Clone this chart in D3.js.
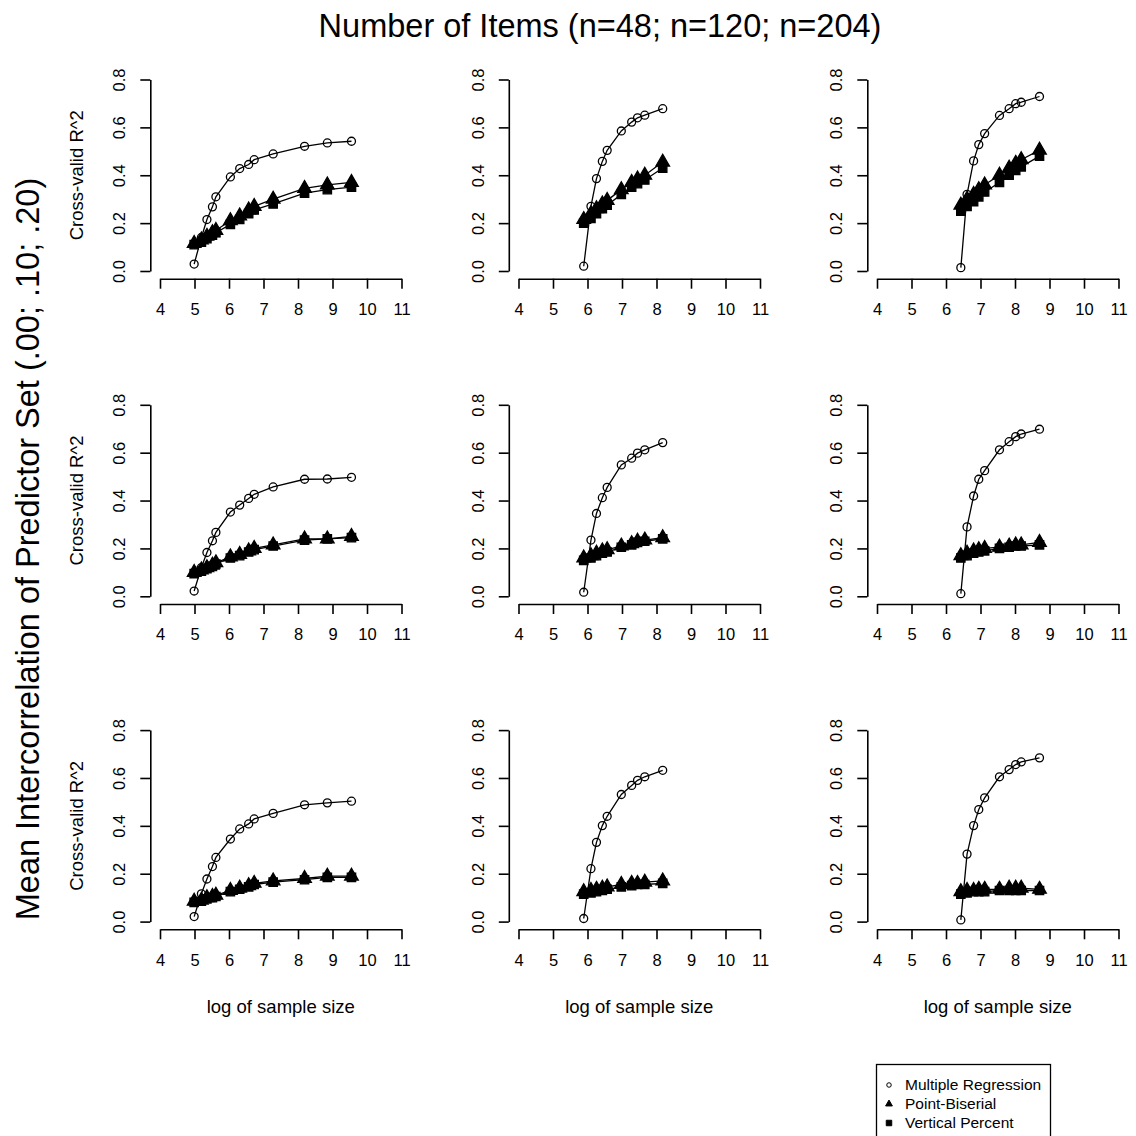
<!DOCTYPE html>
<html>
<head>
<meta charset="utf-8">
<script src="https://cdn.jsdelivr.net/npm/d3@7"></script>
<style>
  html, body { margin: 0; padding: 0; background: #fff; }
  svg { display: block; font-family: "Liberation Sans", Arial, sans-serif; }
  .axis path, .axis line { stroke: #000; stroke-width: 1.6; }
  .axis text { fill: #000; font-size: 16.5px; font-family: "Liberation Sans", Arial, sans-serif; }
</style>
</head>
<body>
<svg id="chart" width="1136" height="1136"></svg>
<script>
// log of sample size at which each design was simulated (one list per item count)
const logSizeItems48  = [4.99, 5.20, 5.36, 5.52, 5.62, 6.04, 6.31, 6.57, 6.73, 7.28, 8.19, 8.85, 9.55];
const logSizeItems120 = [5.89, 6.10, 6.26, 6.43, 6.57, 6.98, 7.28, 7.45, 7.66, 8.18];
const logSizeItems204 = [6.43, 6.61, 6.80, 6.95, 7.12, 7.55, 7.83, 8.02, 8.18, 8.71];

// Cross-validated R^2, mean predictor intercorrelation .00 (n=48, n=120, n=204)
const multReg00 = [
  [0.029, 0.14, 0.215, 0.268, 0.31, 0.393, 0.428, 0.445, 0.465, 0.489, 0.521, 0.535, 0.542],
  [0.020, 0.27, 0.386, 0.458, 0.504, 0.585, 0.622, 0.640, 0.651, 0.678],
  [0.014, 0.32, 0.460, 0.528, 0.574, 0.650, 0.678, 0.699, 0.705, 0.729]
];
const pointBis00 = [
  [0.115, 0.13, 0.145, 0.16, 0.17, 0.21, 0.23, 0.255, 0.27, 0.30, 0.345, 0.36, 0.37],
  [0.215, 0.24, 0.26, 0.28, 0.295, 0.34, 0.37, 0.385, 0.40, 0.455],
  [0.275, 0.30, 0.32, 0.34, 0.36, 0.40, 0.43, 0.45, 0.465, 0.505]
];
const vertPct00 = [
  [0.11, 0.12, 0.135, 0.15, 0.16, 0.195, 0.215, 0.24, 0.255, 0.28, 0.325, 0.34, 0.35],
  [0.20, 0.22, 0.24, 0.26, 0.275, 0.32, 0.35, 0.365, 0.38, 0.43],
  [0.25, 0.27, 0.29, 0.31, 0.33, 0.37, 0.40, 0.42, 0.435, 0.48]
];

// mean predictor intercorrelation .10
const multReg10 = [
  [0.022, 0.12, 0.183, 0.232, 0.267, 0.352, 0.381, 0.409, 0.426, 0.457, 0.489, 0.490, 0.497],
  [0.017, 0.235, 0.346, 0.412, 0.455, 0.549, 0.577, 0.598, 0.612, 0.642],
  [0.011, 0.29, 0.419, 0.489, 0.525, 0.612, 0.646, 0.667, 0.678, 0.698]
];
const pointBis10 = [
  [0.10, 0.11, 0.12, 0.13, 0.14, 0.165, 0.175, 0.19, 0.20, 0.215, 0.24, 0.24, 0.25],
  [0.16, 0.17, 0.18, 0.19, 0.195, 0.21, 0.22, 0.23, 0.235, 0.245],
  [0.17, 0.18, 0.19, 0.195, 0.20, 0.205, 0.21, 0.215, 0.215, 0.225]
];
const vertPct10 = [
  [0.095, 0.105, 0.115, 0.125, 0.135, 0.16, 0.17, 0.185, 0.195, 0.21, 0.235, 0.24, 0.245],
  [0.15, 0.16, 0.17, 0.18, 0.185, 0.205, 0.215, 0.225, 0.23, 0.24],
  [0.16, 0.17, 0.18, 0.185, 0.19, 0.20, 0.205, 0.21, 0.21, 0.215]
];

// mean predictor intercorrelation .20
const multReg20 = [
  [0.021, 0.116, 0.178, 0.23, 0.268, 0.345, 0.387, 0.408, 0.429, 0.452, 0.488, 0.496, 0.503],
  [0.013, 0.221, 0.331, 0.401, 0.44, 0.531, 0.569, 0.59, 0.605, 0.632],
  [0.007, 0.282, 0.401, 0.468, 0.517, 0.605, 0.635, 0.656, 0.667, 0.684]
];
const pointBis20 = [
  [0.085, 0.09, 0.10, 0.105, 0.11, 0.13, 0.14, 0.15, 0.16, 0.17, 0.18, 0.19, 0.19],
  [0.125, 0.13, 0.135, 0.14, 0.145, 0.155, 0.16, 0.16, 0.165, 0.17],
  [0.125, 0.13, 0.13, 0.135, 0.135, 0.135, 0.14, 0.14, 0.14, 0.135]
];
const vertPct20 = [
  [0.08, 0.085, 0.095, 0.10, 0.105, 0.125, 0.135, 0.145, 0.155, 0.165, 0.175, 0.185, 0.185],
  [0.115, 0.12, 0.125, 0.13, 0.135, 0.145, 0.15, 0.155, 0.155, 0.16],
  [0.115, 0.12, 0.125, 0.125, 0.125, 0.13, 0.13, 0.13, 0.13, 0.13]
];

const xTicks = [4, 5, 6, 7, 8, 9, 10, 11];
const yTicks = [0, 0.2, 0.4, 0.6, 0.8];
const methodNames = ["Multiple Regression", "Point-Biserial", "Vertical Percent"];
const titleText = "Number of Items (n=48; n=120; n=204)";
const outerYText = "Mean Intercorrelation of Predictor Set (.00; .10; .20)";
const yLabelText = "Cross-valid R^2";
const xLabelText = "log of sample size";

const logSizes = [logSizeItems48, logSizeItems120, logSizeItems204];
const rowsMR = [multReg00, multReg10, multReg20];
const rowsPB = [pointBis00, pointBis10, pointBis20];
const rowsVP = [vertPct00, vertPct10, vertPct20];

// panel grid geometry
const colLeft = [160, 518.5, 877];      // pixel of x = 4 in each column
const rowBase = [271, 596.3, 921.6];    // pixel of y = 0 in each row
const xSpan = 241.5, ySpan = 191.5;

const svg = d3.select("#chart");

const symCircle = d3.symbol().type(d3.symbolCircle).size(50)();
const symTri = d3.symbol().type(d3.symbolTriangle).size(80)();
const symSq = d3.symbol().type(d3.symbolSquare).size(70)();

for (let r = 0; r < 3; r++) {
  for (let c = 0; c < 3; c++) {
    const x = d3.scaleLinear().domain([4, 11]).range([colLeft[c], colLeft[c] + xSpan]);
    const y = d3.scaleLinear().domain([0, 0.8]).range([rowBase[r], rowBase[r] - ySpan]);
    const g = svg.append("g");

    // x axis sits just below the plotting region
    g.append("g").attr("class", "axis")
      .attr("transform", `translate(0,${rowBase[r] + 7.7})`)
      .call(d3.axisBottom(x).tickValues(xTicks).tickFormat(d3.format("d"))
        .tickSize(10).tickSizeOuter(0).tickPadding(14.5));

    // y axis with labels running parallel to the axis
    const ya = g.append("g").attr("class", "axis")
      .attr("transform", `translate(${colLeft[c] - 9.7},0)`)
      .call(d3.axisLeft(y).tickValues(yTicks).tickFormat(d3.format(".1f"))
        .tickSize(10).tickSizeOuter(0));
    ya.selectAll(".tick text")
      .attr("x", 0).attr("dy", "0.35em")
      .attr("text-anchor", "middle")
      .attr("transform", "translate(-31,0) rotate(-90)");

    const xs = logSizes[c];
    const series = [
      { vals: rowsMR[r][c], path: symCircle, fill: "none" },
      { vals: rowsVP[r][c], path: symSq, fill: "#000" },
      { vals: rowsPB[r][c], path: symTri, fill: "#000" }
    ];
    const line = d3.line().x(d => x(d[0])).y(d => y(d[1]));
    series.forEach(s => {
      const pts = xs.map((v, i) => [v, s.vals[i]]);
      g.append("path").datum(pts).attr("d", line)
        .attr("fill", "none").attr("stroke", "#000").attr("stroke-width", 1.3);
      g.selectAll(null).data(pts).enter().append("path")
        .attr("d", s.path)
        .attr("transform", d => `translate(${x(d[0])},${y(d[1])})`)
        .attr("fill", s.fill)
        .attr("stroke", "#000").attr("stroke-width", 1.3);
    });

    if (c === 0) {
      g.append("text")
        .attr("transform", `translate(77,${rowBase[r] - ySpan / 2}) rotate(-90)`)
        .attr("dy", "0.35em").attr("text-anchor", "middle")
        .attr("font-size", 18.5).text(yLabelText);
    }
    if (r === 2) {
      g.append("text")
        .attr("x", colLeft[c] + xSpan / 2).attr("y", 1013)
        .attr("text-anchor", "middle")
        .attr("font-size", 18.5).text(xLabelText);
    }
  }
}

// outer titles
svg.append("text").attr("x", 600).attr("y", 37)
  .attr("text-anchor", "middle").attr("font-size", 32.5).text(titleText);
svg.append("text")
  .attr("transform", "translate(38.5,549) rotate(-90)")
  .attr("text-anchor", "middle").attr("font-size", 32.5).text(outerYText);

// legend
const lg = svg.append("g");
lg.append("rect").attr("x", 876.5).attr("y", 1064.5).attr("width", 174).attr("height", 90)
  .attr("fill", "#fff").attr("stroke", "#000").attr("stroke-width", 1.3);
const legSyms = [
  { path: d3.symbol().type(d3.symbolCircle).size(16)(), fill: "none" },
  { path: d3.symbol().type(d3.symbolTriangle).size(20)(), fill: "#000" },
  { path: d3.symbol().type(d3.symbolSquare).size(30)(), fill: "#000" }
];
const legY = d3.scalePoint().domain(methodNames).range([1085, 1123]);
methodNames.forEach((name, i) => {
  lg.append("path").attr("d", legSyms[i].path)
    .attr("transform", `translate(889,${legY(name)})`)
    .attr("fill", legSyms[i].fill).attr("stroke", "#000").attr("stroke-width", 1);
  lg.append("text").attr("x", 905).attr("y", legY(name)).attr("dy", "0.35em")
    .attr("font-size", 15.5).text(name);
});
</script>
</body>
</html>
